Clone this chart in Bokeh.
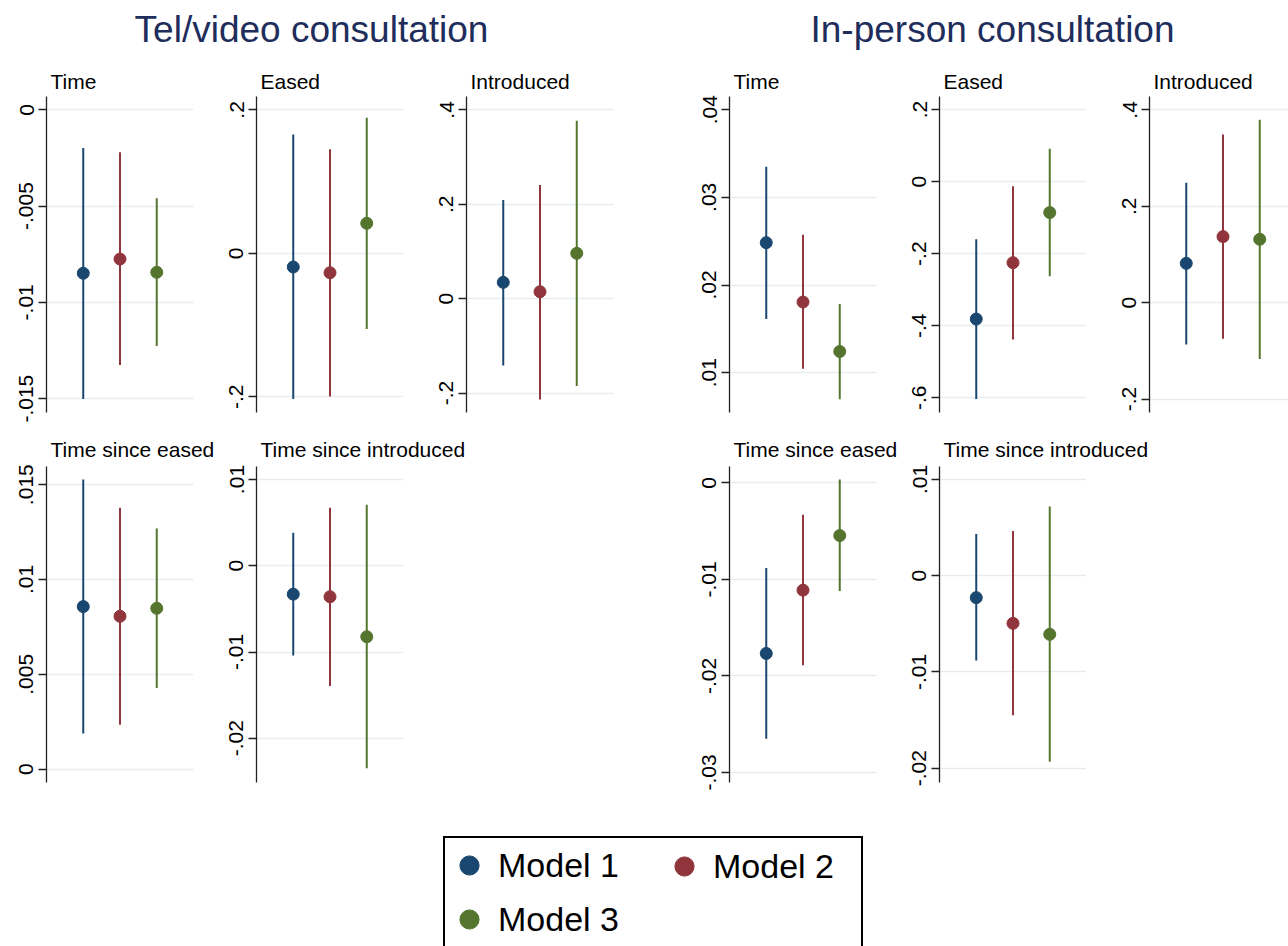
from bokeh.plotting import figure
from bokeh.layouts import column, row, Spacer
from bokeh.models import FixedTicker, Range1d, Legend, LegendItem, ColumnDataSource, Label
from bokeh.embed import file_html
from bokeh.resources import INLINE

# ---------------- data ----------------
models = ["Model 1", "Model 2", "Model 3"]
model_pos = [1, 2, 3]
colors = ["#1a476f", "#90353b", "#55752f"]

group_titles = ["Tel/video consultation", "In-person consultation"]
panel_titles = ["Time", "Eased", "Introduced", "Time since eased", "Time since introduced"]

# Tel/video consultation
tel_time_est = [-0.00849, -0.00775, -0.00844]
tel_time_lo = [-0.01502, -0.01325, -0.01227]
tel_time_hi = [-0.00198, -0.00220, -0.00460]

tel_eased_est = [-0.019, -0.027, 0.0419]
tel_eased_lo = [-0.2032, -0.1996, -0.1055]
tel_eased_hi = [0.1657, 0.1451, 0.1891]

tel_intro_est = [0.0346, 0.0148, 0.0961]
tel_intro_lo = [-0.1414, -0.2135, -0.1852]
tel_intro_hi = [0.2093, 0.2411, 0.3768]

tel_tse_est = [0.00857, 0.00806, 0.00848]
tel_tse_lo = [0.00188, 0.00234, 0.00428]
tel_tse_hi = [0.01528, 0.01379, 0.01269]

tel_tsi_est = [-0.00329, -0.00359, -0.00823]
tel_tsi_lo = [-0.01039, -0.01395, -0.02349]
tel_tsi_hi = [0.00382, 0.00672, 0.00707]

# In-person consultation
inp_time_est = [0.02483, 0.01806, 0.01242]
inp_time_lo = [0.01612, 0.01045, 0.00697]
inp_time_hi = [0.03350, 0.02574, 0.01783]

inp_eased_est = [-0.3814, -0.2250, -0.0861]
inp_eased_lo = [-0.6036, -0.4380, -0.2630]
inp_eased_hi = [-0.1600, -0.0130, 0.0908]

inp_intro_est = [0.0816, 0.1371, 0.1315]
inp_intro_lo = [-0.0866, -0.0748, -0.1169]
inp_intro_hi = [0.2486, 0.3489, 0.3794]

inp_tse_est = [-0.01767, -0.01111, -0.00545]
inp_tse_lo = [-0.02651, -0.01889, -0.01119]
inp_tse_hi = [-0.00881, -0.00329, 0.00035]

inp_tsi_est = [-0.00228, -0.00495, -0.00609]
inp_tsi_lo = [-0.00882, -0.01449, -0.01932]
inp_tsi_hi = [0.00432, 0.00463, 0.00719]

# tick values and labels
tel_time_ticks = [0, -0.005, -0.01, -0.015]
tel_time_labels = ["0", "-.005", "-.01", "-.015"]
tel_eased_ticks = [0.2, 0, -0.2]
tel_eased_labels = [".2", "0", "-.2"]
tel_intro_ticks = [0.4, 0.2, 0, -0.2]
tel_intro_labels = [".4", ".2", "0", "-.2"]
tel_tse_ticks = [0.015, 0.01, 0.005, 0]
tel_tse_labels = [".015", ".01", ".005", "0"]
tel_tsi_ticks = [0.01, 0, -0.01, -0.02]
tel_tsi_labels = [".01", "0", "-.01", "-.02"]

inp_time_ticks = [0.04, 0.03, 0.02, 0.01]
inp_time_labels = [".04", ".03", ".02", ".01"]
inp_eased_ticks = [0.2, 0, -0.2, -0.4, -0.6]
inp_eased_labels = [".2", "0", "-.2", "-.4", "-.6"]
inp_intro_ticks = [0.4, 0.2, 0, -0.2]
inp_intro_labels = [".4", ".2", "0", "-.2"]
inp_tse_ticks = [0, -0.01, -0.02, -0.03]
inp_tse_labels = ["0", "-.01", "-.02", "-.03"]
inp_tsi_ticks = [0.01, 0, -0.01, -0.02]
inp_tsi_labels = [".01", "0", "-.01", "-.02"]

# axis limits
tel_time_lim = (-0.01572, 0.00069)
tel_eased_lim = (-0.2219, 0.2187)
tel_intro_lim = (-0.2411, 0.4284)
tel_tse_lim = (-0.000708, 0.01596)
tel_tsi_lim = (-0.02513, 0.01151)
inp_time_lim = (0.00546, 0.0415)
inp_eased_lim = (-0.6408, 0.2361)
inp_intro_lim = (-0.2278, 0.4278)
inp_tse_lim = (-0.03105, 0.00171)
inp_tsi_lim = (-0.02148, 0.01134)

# ---------------- layout / styling ----------------
FONT = "Liberation Sans"
TITLE_COLOR = "#1e2d5b"
GRID_COLOR = "#e6edf1"
W = 1288
FRAME_W = 147
fig_edges = [0, 208, 418, 681, 891, 1101, 1288]   # figure boundaries (px)
border_left = [46, 48, 48, 48, 48, 48]
frame_left = [fig_edges[i] + border_left[i] for i in range(6)]

HDR_H = 93          # header strip (group titles + first-row panel titles)
TOP_H, TOP_BT, TOP_BB = 332, 3, 13
MID_H = 37          # strip with second-row panel titles
BOT_H, BOT_BT, BOT_BB = 334, 4, 14
LEG_H = 150
BASE_SHIFT = 0.36   # label baseline correction (fraction of font size)


def make_panel(col, est, lo, hi, ticks, labels, lim, height, bt, bb, grid_ticks=None):
    width = fig_edges[col + 1] - fig_edges[col]
    bl = border_left[col]
    if col == 5:
        br = 0
        fw = width - bl
    else:
        br = width - bl - FRAME_W
        fw = FRAME_W
    p = figure(width=width, height=height, output_backend="svg",
               toolbar_location=None, x_range=Range1d(0, 4.0 * fw / FRAME_W),
               y_range=Range1d(lim[0], lim[1]), x_axis_location=None,
               min_border_left=bl, min_border_right=br,
               min_border_top=bt, min_border_bottom=bb)
    p.outline_line_color = None
    p.background_fill_color = "white"
    p.border_fill_color = "white"
    p.xgrid.visible = False
    p.ygrid.ticker = FixedTicker(ticks=grid_ticks if grid_ticks is not None else ticks)
    p.ygrid.grid_line_color = GRID_COLOR
    p.ygrid.grid_line_width = 1.6
    ax = p.yaxis[0]
    ax.ticker = FixedTicker(ticks=ticks, minor_ticks=[])
    ax.major_label_overrides = dict(zip(ticks, labels))
    ax.major_label_orientation = "vertical"
    ax.major_label_text_font = FONT
    ax.major_label_text_font_size = "21px"
    ax.major_label_text_color = "black"
    ax.major_label_standoff = 5
    ax.major_tick_out = 8
    ax.major_tick_in = 0
    ax.minor_tick_out = 0
    ax.minor_tick_in = 0
    ax.axis_line_color = "#222222"
    ax.axis_line_width = 1.3
    ax.major_tick_line_color = "#222222"
    ax.major_tick_line_width = 1.3

    src = ColumnDataSource(dict(x=model_pos, est=est, lo=lo, hi=hi, color=colors))
    p.segment(x0="x", y0="lo", x1="x", y1="hi", line_color="color",
              line_width=2, source=src)
    p.scatter(x="x", y="est", fill_color="color", line_color="color",
              size=12, source=src)
    return p


def blank(width, height, xr=(0, 1), yr=(0, 1)):
    f = figure(width=width, height=height, output_backend="svg",
               toolbar_location=None, x_axis_location=None, y_axis_location=None,
               x_range=Range1d(*xr), y_range=Range1d(*yr),
               min_border_left=0, min_border_right=0,
               min_border_top=0, min_border_bottom=0)
    f.outline_line_color = None
    f.grid.visible = False
    f.background_fill_color = "white"
    f.border_fill_color = "white"
    return f


def add_label(f, text, x, baseline_from_top, size_px, color="black", align="left"):
    y = f.height - (baseline_from_top - BASE_SHIFT * size_px)
    f.add_layout(Label(x=x, y=y, x_units="screen", y_units="screen", text=text,
                       text_align=align, text_baseline="alphabetic", text_font=FONT,
                       text_font_size=f"{size_px}px", text_color=color))


# header strip
hdr = blank(W, HDR_H)
add_label(hdr, group_titles[0], 311, 42, 37, TITLE_COLOR, "center")
add_label(hdr, group_titles[1], 992, 42, 37, TITLE_COLOR, "center")
for i in range(6):
    add_label(hdr, panel_titles[i % 3], frame_left[i] + 4, 88.3, 21)

# first row
p1 = make_panel(0, tel_time_est, tel_time_lo, tel_time_hi,
                tel_time_ticks, tel_time_labels, tel_time_lim, TOP_H, TOP_BT, TOP_BB)
p2 = make_panel(1, tel_eased_est, tel_eased_lo, tel_eased_hi,
                tel_eased_ticks, tel_eased_labels, tel_eased_lim, TOP_H, TOP_BT, TOP_BB)
p3 = make_panel(2, tel_intro_est, tel_intro_lo, tel_intro_hi,
                tel_intro_ticks, tel_intro_labels, tel_intro_lim, TOP_H, TOP_BT, TOP_BB)
p4 = make_panel(3, inp_time_est, inp_time_lo, inp_time_hi,
                inp_time_ticks, inp_time_labels, inp_time_lim, TOP_H, TOP_BT, TOP_BB,
                grid_ticks=inp_time_ticks[1:])
p5 = make_panel(4, inp_eased_est, inp_eased_lo, inp_eased_hi,
                inp_eased_ticks, inp_eased_labels, inp_eased_lim, TOP_H, TOP_BT, TOP_BB)
p6 = make_panel(5, inp_intro_est, inp_intro_lo, inp_intro_hi,
                inp_intro_ticks, inp_intro_labels, inp_intro_lim, TOP_H, TOP_BT, TOP_BB)

# strip with second-row titles (strip starts at y=425 on the page)
mid = blank(W, MID_H)
for i, col in enumerate([0, 1, 3, 4]):
    add_label(mid, panel_titles[3 + i % 2], frame_left[col] + 4, 456.7 - 425, 21)

# second row
p7 = make_panel(0, tel_tse_est, tel_tse_lo, tel_tse_hi,
                tel_tse_ticks, tel_tse_labels, tel_tse_lim, BOT_H, BOT_BT, BOT_BB)
p8 = make_panel(1, tel_tsi_est, tel_tsi_lo, tel_tsi_hi,
                tel_tsi_ticks, tel_tsi_labels, tel_tsi_lim, BOT_H, BOT_BT, BOT_BB)
p9 = make_panel(3, inp_tse_est, inp_tse_lo, inp_tse_hi,
                inp_tse_ticks, inp_tse_labels, inp_tse_lim, BOT_H, BOT_BT, BOT_BB)
p10 = make_panel(4, inp_tsi_est, inp_tsi_lo, inp_tsi_hi,
                 inp_tsi_ticks, inp_tsi_labels, inp_tsi_lim, BOT_H, BOT_BT, BOT_BB)

# legend strip (renderers lie outside its ranges; only the legend shows)
lf = blank(W, LEG_H, xr=(10, 11), yr=(10, 11))
rs = [lf.scatter(x=[model_pos[i]], y=[model_pos[i]], fill_color=c, line_color=c, size=19)
      for i, c in enumerate(colors)]

legA = Legend(items=[LegendItem(label=models[0], renderers=[rs[0]]),
                     LegendItem(label=models[2], renderers=[rs[2]])],
              location=(443, -2), orientation="vertical", padding=0, spacing=0,
              glyph_width=48, glyph_height=54, label_height=54, label_width=363,
              label_standoff=5, label_text_font=FONT, label_text_font_size="34px",
              label_text_color="black", border_line_color="black", border_line_width=2,
              border_line_alpha=1.0,
              background_fill_color="white", background_fill_alpha=1.0, margin=0)
legC = Legend(items=[LegendItem(label=models[1], renderers=[rs[1]])],
              location=(660, 53), orientation="vertical", padding=0, spacing=0,
              glyph_width=48, glyph_height=54, label_height=54,
              label_standoff=5, label_text_font=FONT, label_text_font_size="34px",
              label_text_color="black", border_line_color=None,
              background_fill_alpha=0.0, margin=0)
lf.add_layout(legA)
lf.add_layout(legC)

layout = column(
    hdr,
    row(p1, p2, p3, p4, p5, p6),
    mid,
    row(p7, p8, Spacer(width=263, height=BOT_H), p9, p10),
    lf,
)

open("out.html", "w").write(file_html(layout, INLINE, title="Coefficient plot"))
